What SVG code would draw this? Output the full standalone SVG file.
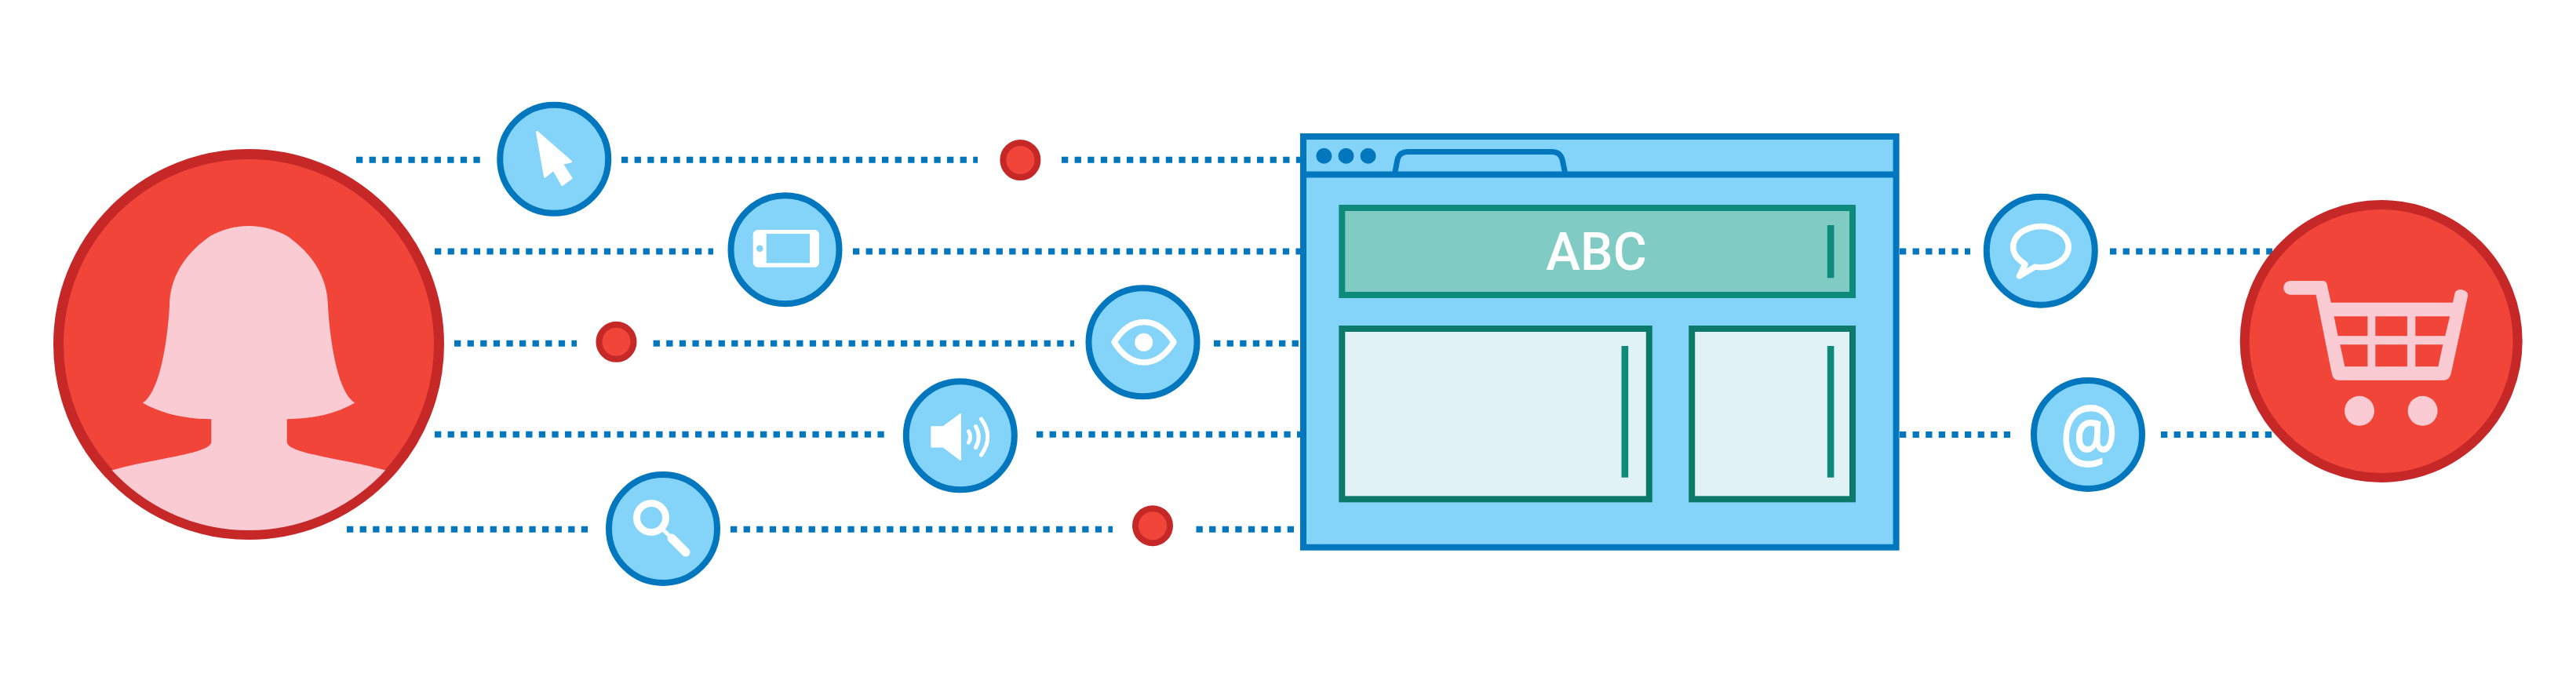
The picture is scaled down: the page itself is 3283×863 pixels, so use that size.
<svg xmlns="http://www.w3.org/2000/svg" width="3283" height="863" viewBox="0 0 3283 863">
<style>
.dot{stroke:#0277BD;stroke-width:8;stroke-dasharray:8.3 8.3;fill:none}
.blue{fill:#84D3F8;stroke:#0277BD;stroke-width:8}
.red{fill:#F2453A;stroke:#C62828}
.pink{fill:#FACBD3}
.wh{fill:#fff}
.ol{fill:none;stroke:#fff;stroke-linecap:round;stroke-linejoin:round}
.panel{fill:#E0F2F5;stroke:#0B7A6B;stroke-width:8}
.bar{fill:#0E8A7A}
</style>
<defs><clipPath id="personClip"><circle cx="317" cy="439" r="237"/></clipPath></defs>
<rect width="3283" height="863" fill="#fff"/>
<g id="connectors">
<line class="dot" x1="454" y1="203.7" x2="612" y2="203.7"/>
<line class="dot" x1="792" y1="203.7" x2="1246" y2="203.7"/>
<line class="dot" x1="1353" y1="203.7" x2="1657" y2="203.7"/>
<line class="dot" x1="554" y1="320.6" x2="909" y2="320.6"/>
<line class="dot" x1="1087" y1="320.6" x2="1657" y2="320.6"/>
<line class="dot" x1="579" y1="437.8" x2="735" y2="437.8"/>
<line class="dot" x1="832.6" y1="437.8" x2="1369" y2="437.8"/>
<line class="dot" x1="1547" y1="437.8" x2="1657" y2="437.8"/>
<line class="dot" x1="554" y1="553.8" x2="1130" y2="553.8"/>
<line class="dot" x1="1321" y1="553.8" x2="1657" y2="553.8"/>
<line class="dot" x1="442" y1="674.7" x2="750" y2="674.7"/>
<line class="dot" x1="931" y1="674.7" x2="1418" y2="674.7"/>
<line class="dot" x1="1524.5" y1="674.7" x2="1650" y2="674.7"/>
<line class="dot" x1="2421" y1="320.6" x2="2511" y2="320.6"/>
<line class="dot" x1="2689" y1="320.6" x2="2896" y2="320.6"/>
<line class="dot" x1="2421" y1="554" x2="2562" y2="554"/>
<line class="dot" x1="2754" y1="554" x2="2900" y2="554"/>
</g>
<g id="person">
<circle class="red" cx="317" cy="439" r="242.5" stroke-width="13"/>
<path class="pink" clip-path="url(#personClip)" d="M316.8 288C298 288 283 293 268.6 300.5C246 316 216 345 216 390.7C213 440 203 500 181.8 513.6C205 527 235 534.3 269.3 534.3V563C269.3 578 205 583 146.4 598.4L130 603V700H504V603L487.6 598.4C429 583 365.7 578 365.7 563V534.3C399 534.3 429 527 452.2 513.6C431 500 421 440 418 390.7C418 345 388 316 365.4 300.5C351 293 336 288 316.8 288Z"/>
</g>
<g id="cursor">
<circle class="blue" cx="706.2" cy="202.8" r="69"/>
<path class="wh" stroke="#fff" stroke-width="3" stroke-linejoin="round" d="M684.5 168.5L727.5 206L716 208.5L728 227L716.5 235.5L705.5 216L694.5 225Z"/>
</g>
<g id="tablet">
<circle class="blue" cx="1000.5" cy="318.2" r="69"/>
<rect class="wh" x="959.7" y="293" width="84.3" height="47.7" rx="6"/>
<rect x="976.7" y="298" width="55.3" height="37.3" fill="#84D3F8"/>
<circle cx="968.3" cy="316.7" r="4.3" fill="#84D3F8"/>
</g>
<g id="dot1"><circle class="red" cx="1300.4" cy="204" r="22" stroke-width="8"/></g>
<g id="dot2"><circle class="red" cx="785.5" cy="435.8" r="22" stroke-width="8"/></g>
<g id="dot3"><circle class="red" cx="1469" cy="670.2" r="22" stroke-width="8"/></g>
<g id="eye">
<circle class="blue" cx="1456.5" cy="436.3" r="69"/>
<path class="ol" stroke-width="7.5" d="M1420 436.3C1430 420 1443 410.5 1458 410.5C1473 410.5 1486 420 1496 436.3C1486 452 1473 462 1458 462C1443 462 1430 452 1420 436.3Z"/>
<circle class="wh" cx="1457.7" cy="436.3" r="11.5"/>
</g>
<g id="speaker">
<circle class="blue" cx="1223.8" cy="555.3" r="69"/>
<path class="wh" stroke="#fff" stroke-width="2" stroke-linejoin="round" d="M1187.3 544.3H1202L1224 528V586L1202 569.5H1187.3Z"/>
<path class="ol" stroke-width="5" d="M1234.5 550Q1238.7 557 1234.5 564M1243.5 543.5Q1251 557 1243.5 570.5M1250.5 534Q1267 557 1250.5 580"/>
</g>
<g id="search">
<circle class="blue" cx="845" cy="674" r="69"/>
<circle cx="830" cy="660" r="18.5" fill="none" stroke="#fff" stroke-width="9"/>
<line x1="846" y1="676" x2="854" y2="684" stroke="#fff" stroke-width="5"/>
<line x1="856" y1="686" x2="874" y2="704" stroke="#fff" stroke-width="11" stroke-linecap="round"/>
</g>
<g id="window">
<rect x="1661" y="174" width="755.6" height="523.7" fill="#84D3F8" stroke="#0277BD" stroke-width="8"/>
<line x1="1661" y1="222.5" x2="2416.6" y2="222.5" stroke="#0277BD" stroke-width="8"/>
<circle cx="1687.4" cy="198.7" r="10" fill="#0277BD"/>
<circle cx="1715.5" cy="198.7" r="10" fill="#0277BD"/>
<circle cx="1743.6" cy="198.7" r="10" fill="#0277BD"/>
<path fill="none" stroke="#0277BD" stroke-width="7" d="M1777.5 222L1781 203Q1784 193.5 1794 193.5H1978Q1988 193.5 1991 203L1995 222"/>
<rect x="1710.3" y="265" width="650.7" height="111" fill="#80CBC4" stroke="#0E8A7A" stroke-width="8"/>
<rect class="bar" x="2328.8" y="287" width="8.6" height="67.3"/>
<text x="2034.6" y="344" text-anchor="middle" font-family="Roboto, sans-serif" font-size="66" font-weight="500" fill="#fff">ABC</text>
<rect class="panel" x="1710.3" y="419" width="391.5" height="217.3"/>
<rect class="bar" x="2066.5" y="441" width="8.7" height="167.7"/>
<rect class="panel" x="2156.2" y="419" width="204.8" height="217.3"/>
<rect class="bar" x="2328.8" y="441" width="8.6" height="167.7"/>
</g>
<g id="chat">
<circle class="blue" cx="2600.8" cy="319.7" r="69"/>
<path class="ol" stroke-width="7.5" d="M2593.5 340.1A35.3 26 0 1 0 2575.5 332.7L2581 337L2573.5 352L2593.5 340.1Z"/>
</g>
<g id="email">
<circle class="blue" cx="2661" cy="554" r="69"/>
<text transform="translate(2662.4 586) scale(1 1.19)" text-anchor="middle" font-family="Noto Sans, sans-serif" font-size="82" fill="#fff" stroke="#fff" stroke-width="1.5">@</text>
</g>
<g id="cart">
<circle class="red" cx="3034.7" cy="435" r="174" stroke-width="12"/>
<path class="pink" fill-rule="evenodd" d="M2919 358H2960Q2965 358 2965.8 363L2970.8 385.7H3126L3128.8 373Q3130.5 369 3137 369Q3146 371 3145.2 377L3124 475Q3122 484.7 3115 484.7H2980Q2973 484.7 2971.5 475L2951.6 375.7H2919A8.8 8.8 0 0 1 2919 358ZM2974.6 403.3L2979.6 428.3H3017.4V403.3ZM3027.3 403.3V428.3H3067.9V403.3ZM3078.3 403.3V428.3H3116.2L3122.2 403.3ZM2982.3 439.3L2988.3 467.3H3017.4V439.3ZM3027.3 439.3V467.3H3067.9V439.3ZM3078.3 439.3V467.3H3107.4L3113.4 439.3Z"/>
<circle class="pink" cx="3007" cy="523.7" r="19"/>
<circle class="pink" cx="3087.6" cy="523.7" r="19"/>
</g>
</svg>
